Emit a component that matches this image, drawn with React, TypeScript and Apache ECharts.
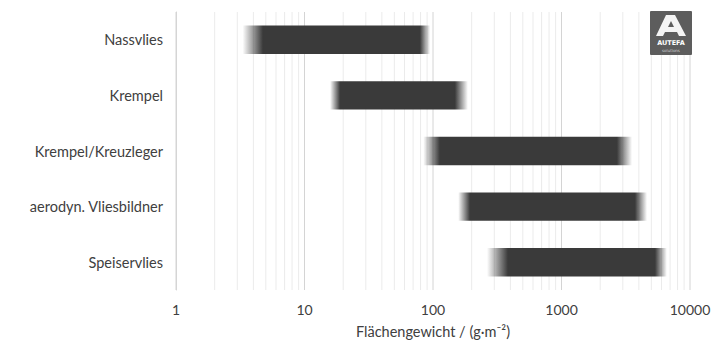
import React, { useEffect, useRef } from "react";
import * as echarts from "echarts";

const categories = [
  "Nassvlies",
  "Krempel",
  "Krempel/Kreuzleger",
  "aerodyn. Vliesbildner",
  "Speiservlies",
];
// range of each process in g/m² (outer fade start, solid start, solid end, outer fade end)
const fadeStart = [3.3, 15.8, 84, 157, 263];
const solidStart = [4.75, 18.9, 113, 194, 383];
const solidEnd = [79, 148, 2700, 3730, 5340];
const fadeEnd = [95, 187, 3540, 4630, 6610];

const xTicks = [1, 10, 100, 1000, 10000];
const gridValues = [
  1, 2, 3, 4, 5, 6, 7, 8, 9,
  10, 20, 30, 40, 50, 60, 70, 80, 90,
  100, 200, 300, 400, 500, 600, 700, 800, 900,
  1000, 2000, 3000, 4000, 5000, 6000, 7000, 8000, 9000,
  10000,
];

const BAR = "58,58,58";
const FONT = "Lato, 'Open Sans', sans-serif";

export default function App() {
  const ref = useRef<HTMLDivElement>(null);
  useEffect(() => {
    if (!ref.current) return;
    const chart = echarts.init(ref.current, undefined, { renderer: "svg" });
    const barData = categories.map((_, i) => [
      i,
      fadeStart[i],
      solidStart[i],
      solidEnd[i],
      fadeEnd[i],
    ]);
    const gridData = gridValues.map((v) => [v, xTicks.includes(v) ? 1 : 0]);
    chart.setOption({
      animation: false,
      backgroundColor: "#ffffff",
      grid: { left: 176, right: 36, top: 12, bottom: 57 },
      xAxis: {
        type: "log",
        logBase: 10,
        min: 1,
        max: 10000,
        axisLine: { show: false },
        axisTick: { show: false },
        splitLine: { show: false },
        axisLabel: {
          color: "#404040",
          fontSize: 14,
          fontFamily: FONT,
          margin: 12,
          formatter: (v: number) => String(v),
        },
        name: "Flächengewicht / (g·m⁻²)",
        nameLocation: "middle",
        nameGap: 34,
        nameTextStyle: { color: "#404040", fontSize: 14.5, fontFamily: FONT },
      },
      yAxis: {
        type: "category",
        data: categories,
        inverse: true,
        axisLine: { show: true, lineStyle: { color: "#d6d6d6", width: 1 } },
        axisTick: { show: false },
        splitLine: { show: false },
        axisLabel: {
          color: "#404040",
          fontSize: 14.5,
          fontFamily: FONT,
          margin: 13,
        },
      },
      series: [
        {
          type: "custom",
          z: 1,
          silent: true,
          data: gridData,
          encode: { x: 0 },
          renderItem: (params: any, api: any) => {
            const x = api.coord([api.value(0), 0])[0];
            const cs = params.coordSys;
            const major = api.value(1) === 1;
            return {
              type: "line",
              shape: { x1: x, y1: cs.y, x2: x, y2: cs.y + cs.height },
              style: { stroke: major ? "#d4d4d4" : "#ebebeb", lineWidth: 1 },
            };
          },
        },
        {
          type: "custom",
          z: 5,
          silent: true,
          data: barData,
          encode: { y: 0, x: [1, 2, 3, 4] },
          renderItem: (params: any, api: any) => {
            const c = api.value(0);
            const p0 = api.coord([api.value(1), c]);
            const p1 = api.coord([api.value(2), c]);
            const p2 = api.coord([api.value(3), c]);
            const p3 = api.coord([api.value(4), c]);
            const h = api.size([0, 1])[1] * 0.51;
            const x0 = p0[0];
            const w = p3[0] - x0;
            const stops = [
              { offset: 0, color: `rgba(${BAR},0)` },
              { offset: (p1[0] - x0) / w, color: `rgba(${BAR},1)` },
              { offset: (p2[0] - x0) / w, color: `rgba(${BAR},1)` },
              { offset: 1, color: `rgba(${BAR},0)` },
            ];
            return {
              type: "rect",
              shape: { x: x0, y: p0[1] - h / 2, width: w, height: h },
              style: { fill: new echarts.graphic.LinearGradient(0, 0, 1, 0, stops) },
            };
          },
        },
      ],
      graphic: [
        {
          type: "group",
          x: 650,
          y: 11,
          z: 100,
          children: [
            { type: "rect", z: 100, shape: { x: 0, y: 0, width: 42, height: 44, r: 1 }, style: { fill: "#5d5d5d" } },
            {
              type: "polygon",
              z: 101,
              shape: {
                points: [
                  [6, 25], [16, 4], [25, 4], [36, 25], [29, 25], [27, 21], [15, 21], [13, 25],
                ],
              },
              style: { fill: "#f4f4f4" },
            },
            {
              type: "polygon",
              z: 102,
              shape: { points: [[18, 16], [24, 16], [21, 10]] },
              style: { fill: "#5d5d5d" },
            },
            {
              type: "text",
              z: 102,
              style: {
                x: 21, y: 32, text: "AUTEFA", fill: "#ffffff", fontSize: 6.5, fontWeight: "bold",
                fontFamily: "'DejaVu Sans', sans-serif", align: "center", verticalAlign: "middle",
              },
            },
            {
              type: "text",
              z: 102,
              style: {
                x: 21, y: 39, text: "solutions", fill: "#cfcfcf", fontSize: 4,
                fontFamily: "'DejaVu Sans', sans-serif", align: "center", verticalAlign: "middle",
              },
            },
          ],
        },
      ],
    });
    return () => chart.dispose();
  }, []);
  return (
    <div
      ref={ref}
      style={{ position: "absolute", left: 0, top: 0, width: 726, height: 347, background: "#fff" }}
    />
  );
}
